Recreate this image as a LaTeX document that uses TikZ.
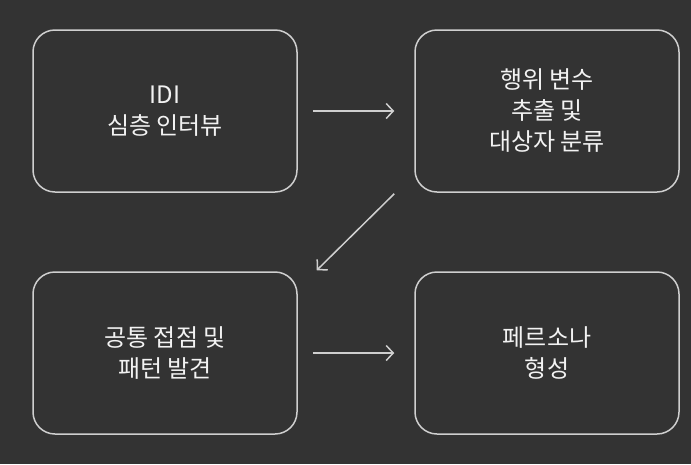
\documentclass[tikz,border=0pt]{standalone}
\usepackage{fontspec}
\setmainfont{Noto Sans CJK KR}
\usetikzlibrary{positioning, arrows.meta}

\definecolor{bgdark}{HTML}{333333}
\definecolor{lineg}{HTML}{CFCFCF}
\definecolor{txtw}{HTML}{F2F2F2}

\begin{document}
\begin{tikzpicture}[
  x=1pt, y=-1pt,
  box/.style={draw=lineg, line width=1.5pt, rounded corners=22pt,
    minimum width=264pt, minimum height=162pt, align=center,
    text=txtw, font=\fontsize{24}{31}\selectfont},
  arr/.style={-{Straight Barb[length=7pt, width=15pt]}, line width=1.5pt, lineg},
]

% --- background ---
\fill[bgdark] (0,0) rectangle (691,464);
\useasboundingbox (0,0) rectangle (691,464);

% --- steps ---
\node[box] (idi) at (165,111) {IDI\\심층 인터뷰};
\node[box] (extract) at (547,111) {행위 변수\\추출 및\\대상자 분류};
\node[box] (pattern) at (165,353) {공통 접점 및\\패턴 발견};
\node[box] (persona) at (547,353) {페르소나\\형성};

% --- arrows ---
\draw[arr, shorten <=15pt, shorten >=20pt] (idi) -- (extract);
\draw[arr] ([xshift=-20pt, yshift=-1pt]extract.south west)
  -- ([xshift=19pt, yshift=1pt]pattern.north east);
\draw[arr, shorten <=15pt, shorten >=20pt] (pattern) -- (persona);

\end{tikzpicture}
\end{document}
